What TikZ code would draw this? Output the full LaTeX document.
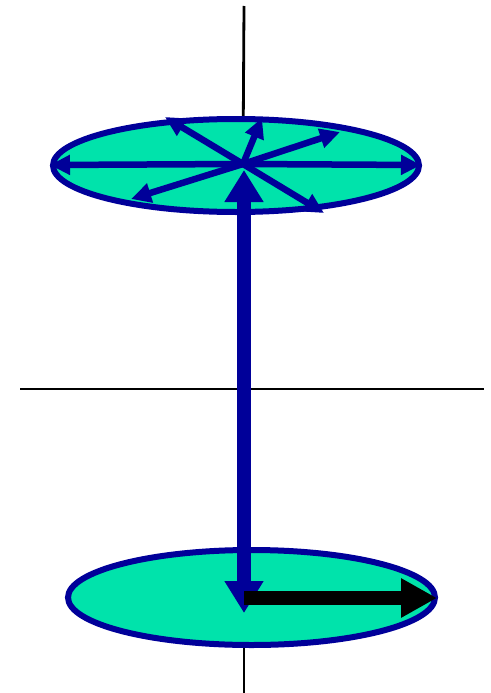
\documentclass[tikz,border=0pt]{standalone}
\usepackage{tikz}
\usetikzlibrary{arrows.meta,shapes.geometric}
\definecolor{diskblue}{rgb}{0,0,0.6}
\definecolor{diskfill}{rgb}{0,0.89,0.67}

\begin{document}
\begin{tikzpicture}[x=1pt, y=-1pt,
    disk/.style={ellipse, draw=diskblue, fill=diskfill, line width=6pt, inner sep=0pt},
    ax/.style={-, black, line width=2.8pt},
    spin/.style={-{Triangle[length=20pt,width=19pt]}, diskblue, line width=6.5pt},
    bigarr/.style={{Triangle[length=32pt,width=37pt]}-{Triangle[length=32pt,width=37pt]}, diskblue, line width=14pt},
    vel/.style={-{Triangle[length=36pt,width=37pt]}, black, line width=14pt}
  ]
    \useasboundingbox (0,0) rectangle (490,693);
    % axes
    \coordinate (axtop) at (244,6);
    \coordinate (axbot) at (244,693);
    \coordinate (hl) at (20,389);
    \coordinate (hr) at (484,389);
    \coordinate (c1) at (243,164);
    \coordinate (c2) at (244,598);
    \draw[ax] (axtop)--(c1); \draw[ax] (c2)--(axbot);
    \draw[ax] (hl)--(hr);
    % disks
    \node[disk, minimum width=366pt, minimum height=93pt] (top) at (236,165.5) {};
    \node[disk, minimum width=367pt, minimum height=95pt] (bot) at (251.5,597.5) {};
    % spin arrows
    \coordinate (s1) at (50,165);  \coordinate (s2) at (421,165);
    \coordinate (s3) at (165,117); \coordinate (s4) at (262,118);
    \coordinate (s5) at (340,132); \coordinate (s6) at (131,199);
    \coordinate (s7) at (324,213);
    \draw[spin] (c1)--(s1); \draw[spin] (c1)--(s2);
    \draw[spin] (c1)--(s3); \draw[spin] (c1)--(s4);
    \draw[spin] (c1)--(s5); \draw[spin] (c1)--(s6);
    \draw[spin] (c1)--(s7);
    % axis arrow and velocity
    \coordinate (b1) at (244,613);
    \coordinate (b2) at (244,170);
    \coordinate (v) at (437,598);
    \draw[bigarr] (b1)--(b2);
    \draw[vel] (c2)--(v);
  \end{tikzpicture}
\end{document}
